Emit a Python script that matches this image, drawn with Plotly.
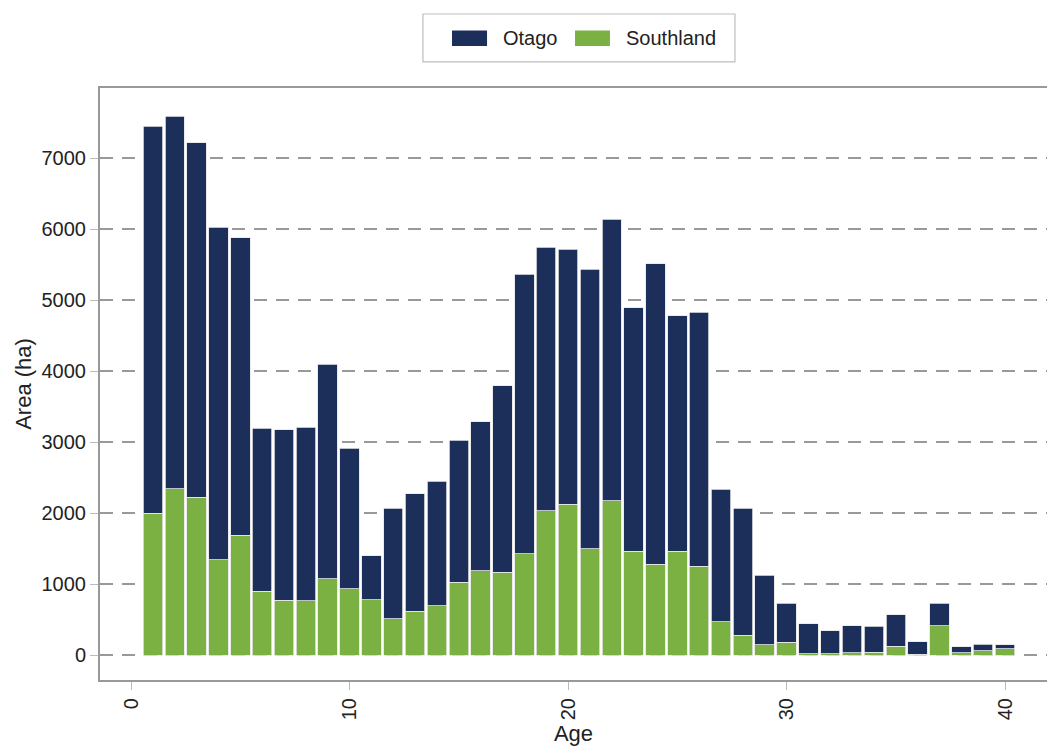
import plotly.graph_objects as go

# Stand age (years)
ages = list(range(1, 41))

# Total planted area per age class (ha), Otago + Southland stacked
total_area = [7450, 7590, 7215, 6025, 5875, 3195, 3170, 3210, 4095, 2915,
              1400, 2065, 2270, 2450, 3028, 3282, 3790, 5365, 5740, 5715,
              5430, 6140, 4890, 5510, 4780, 4830, 2335, 2070, 1120, 730,
              440, 345, 415, 405, 570, 185, 730, 115, 150, 145]

# Southland share of the area (ha)
southland = [2000, 2340, 2225, 1340, 1685, 895, 770, 765, 1075, 935,
             775, 510, 615, 695, 1025, 1190, 1165, 1425, 2035, 2125,
             1500, 2175, 1460, 1275, 1460, 1250, 470, 280, 145, 180,
             20, 20, 30, 40, 125, 10, 415, 35, 60, 90]

# Otago share is the remainder of the total
otago = [t - s for t, s in zip(total_area, southland)]

y_ticks = [0, 1000, 2000, 3000, 4000, 5000, 6000, 7000]
x_ticks = [0, 10, 20, 30, 40]

OTAGO_COLOR = "#1c2f5b"
SOUTHLAND_COLOR = "#7bb143"
FONT = "Liberation Sans, Arial, sans-serif"

fig = go.Figure()
fig.add_trace(go.Bar(
    x=ages, y=southland, name="Southland",
    marker=dict(color=SOUTHLAND_COLOR, line=dict(color="#e6e6e6", width=0.8)),
    showlegend=False,
))
fig.add_trace(go.Bar(
    x=ages, y=otago, name="Otago",
    marker=dict(color=OTAGO_COLOR, line=dict(color="#e6e6e6", width=0.8)),
    showlegend=False,
))

# Boxed legend above the plot
legend_items = [("Otago", OTAGO_COLOR, 0.3717, 0.4087),
                ("Southland", SOUTHLAND_COLOR, 0.5016, 0.5385)]
fig.add_shape(type="rect", xref="paper", yref="paper",
              x0=0.341, x1=0.6705, y0=1.044, y1=1.125,
              line=dict(color="#bdbdbd", width=1.2), fillcolor="white")
for label, color, sx0, sx1 in legend_items:
    fig.add_shape(type="rect", xref="paper", yref="paper",
                  x0=sx0, x1=sx1, y0=1.071, y1=1.097,
                  line=dict(width=0), fillcolor=color)
    fig.add_annotation(x=sx1 + 0.015, y=1.084, xref="paper", yref="paper",
                       text=label, showarrow=False, xanchor="left",
                       yanchor="middle",
                       font=dict(family=FONT, size=20, color="#222222"))

fig.update_layout(
    width=1047, height=746,
    margin=dict(l=100, r=0, t=88, b=66),
    barmode="stack",
    bargap=0.11,
    plot_bgcolor="white",
    paper_bgcolor="white",
    font=dict(family=FONT, size=20, color="#222222"),
    showlegend=False,
)

fig.update_xaxes(
    range=[-1.42, 41.92],
    tickmode="array", tickvals=x_ticks, ticktext=[str(v) for v in x_ticks],
    tickangle=-90,
    ticks="outside", ticklen=8, tickcolor="#bbbbbb", tickwidth=1,
    showgrid=False, zeroline=False,
    showline=True, linecolor="#999999", linewidth=2, mirror=True,
    title=dict(text="Age", font=dict(size=22), standoff=6),
    tickfont=dict(size=20),
)
fig.update_yaxes(
    range=[-352, 7986],
    tickmode="array", tickvals=y_ticks, ticktext=[str(v) for v in y_ticks],
    ticks="outside", ticklen=8, tickcolor="#bbbbbb", tickwidth=1,
    showgrid=True, gridcolor="#999999", gridwidth=2, griddash="13px,9px",
    zeroline=False,
    showline=True, linecolor="#999999", linewidth=2,
    title=dict(text="Area (ha)", font=dict(size=22), standoff=4),
    tickfont=dict(size=20),
)

fig.write_html("out.html")
